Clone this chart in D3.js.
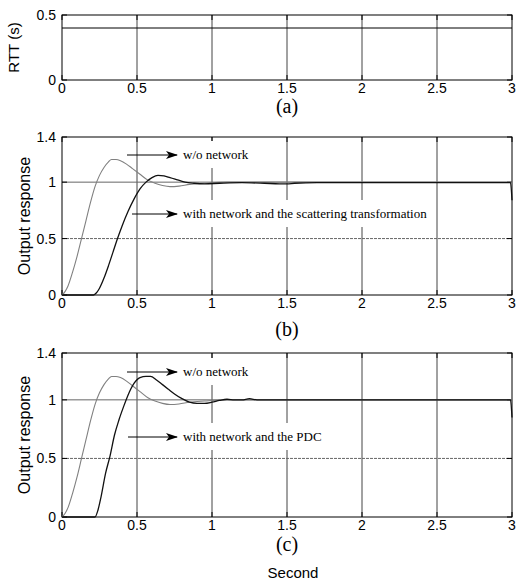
<html>
<head>
<meta charset="UTF-8">
<script src="https://d3js.org/d3.v7.min.js"></script>
<style>
  body { margin: 0; background: #fff; }
  text { font-family: "Liberation Sans", Arial, sans-serif; }
  .serif { font-family: "Liberation Serif", "Times New Roman", serif; }
</style>
</head>
<body>
<svg id="chart" width="532" height="583"></svg>
<script>
// RTT series
var tRtt = [0, 3];
var rtt = [0.4, 0.4];

// w/o network response
var tNo = [0, 0.02, 0.04, 0.07, 0.1, 0.13, 0.16, 0.19, 0.22, 0.25, 0.28, 0.31, 0.33, 0.36, 0.39, 0.43, 0.47, 0.52, 0.57, 0.62, 0.67, 0.72, 0.78, 0.85, 0.95, 1.1, 1.3, 1.6, 2, 2.5, 3];
var yNo = [0, 0.03, 0.08, 0.2, 0.34, 0.5, 0.66, 0.82, 0.96, 1.06, 1.13, 1.18, 1.2, 1.2, 1.19, 1.16, 1.12, 1.07, 1.02, 0.99, 0.97, 0.96, 0.965, 0.98, 0.99, 1.0, 1.0, 1.0, 1.0, 1.0, 1.0];

// with network and the scattering transformation
var tSc = [0, 0.21, 0.23, 0.25, 0.28, 0.31, 0.34, 0.37, 0.4, 0.44, 0.48, 0.52, 0.56, 0.6, 0.64, 0.68, 0.72, 0.77, 0.82, 0.88, 0.95, 1.05, 1.2, 1.35, 1.45, 1.5, 1.55, 1.7, 2, 2.5, 2.99, 3];
var ySc = [0, 0, 0.02, 0.06, 0.15, 0.26, 0.38, 0.5, 0.61, 0.74, 0.85, 0.94, 1.0, 1.04, 1.06, 1.055, 1.04, 1.02, 1.0, 0.99, 0.985, 0.99, 0.995, 0.99, 0.985, 0.985, 0.99, 0.995, 0.995, 0.995, 0.995, 0.84];

// with network and the PDC
var tPdc = [0, 0.22, 0.24, 0.26, 0.29, 0.32, 0.35, 0.38, 0.41, 0.44, 0.48, 0.52, 0.56, 0.59, 0.63, 0.67, 0.71, 0.75, 0.8, 0.85, 0.9, 0.95, 1.0, 1.05, 1.1, 1.15, 1.2, 1.25, 1.3, 1.4, 1.6, 2, 2.5, 2.99, 3];
var yPdc = [0, 0, 0.06, 0.17, 0.37, 0.52, 0.7, 0.83, 0.94, 1.04, 1.14, 1.19, 1.2, 1.2, 1.17, 1.13, 1.09, 1.05, 1.01, 0.98, 0.97, 0.97, 0.98, 0.995, 1.005, 1.0, 1.0, 1.01, 1.0, 1.0, 1.0, 1.0, 1.0, 1.0, 0.85];

var xTicks = [0, 0.5, 1, 1.5, 2, 2.5, 3];
var yTicksA = [0, 0.5];
var yTicksB = [0, 0.5, 1, 1.4];

var svg = d3.select("#chart");
var left = 62, right = 512;

svg.append("defs").append("marker")
  .attr("id", "head")
  .attr("viewBox", "0 0 12 8")
  .attr("refX", 11).attr("refY", 4)
  .attr("markerWidth", 12).attr("markerHeight", 8)
  .attr("markerUnits", "userSpaceOnUse")
  .attr("orient", "auto")
  .append("path")
  .attr("d", "M0,0 L12,4 L0,8 L3,4 Z")
  .attr("fill", "#000");

function panel(top, bottom, ymax, yticks, label, labelY, ylabel, ylabelX, ysize) {
  var x = d3.scaleLinear().domain([0, 3]).range([left, right]);
  var y = d3.scaleLinear().domain([0, ymax]).range([bottom, top]);
  var g = svg.append("g");

  // grid
  g.selectAll(".vg").data(xTicks.slice(1, -1)).enter().append("line")
    .attr("x1", d => x(d)).attr("x2", d => x(d))
    .attr("y1", top).attr("y2", bottom)
    .attr("stroke", "#444").attr("stroke-width", 1);
  g.selectAll(".hg").data(yticks.filter(d => d > 0 && d < ymax)).enter().append("line")
    .attr("x1", left).attr("x2", right)
    .attr("y1", d => y(d)).attr("y2", d => y(d))
    .attr("stroke", "#666").attr("stroke-width", 1)
    .attr("stroke-dasharray", d => d == 1 ? null : "3,1");

  // ticks inward
  xTicks.forEach(function(d) {
    g.append("line").attr("x1", x(d)).attr("x2", x(d)).attr("y1", bottom).attr("y2", bottom - 5).attr("stroke", "#000");
    g.append("line").attr("x1", x(d)).attr("x2", x(d)).attr("y1", top).attr("y2", top + 5).attr("stroke", "#000");
  });
  yticks.forEach(function(d) {
    g.append("line").attr("x1", left).attr("x2", left + 5).attr("y1", y(d)).attr("y2", y(d)).attr("stroke", "#000");
    g.append("line").attr("x1", right).attr("x2", right - 5).attr("y1", y(d)).attr("y2", y(d)).attr("stroke", "#000");
  });

  // frame
  g.append("rect").attr("x", left).attr("y", top)
    .attr("width", right - left).attr("height", bottom - top)
    .attr("fill", "none").attr("stroke", "#000").attr("stroke-width", 1);

  // tick labels
  g.selectAll(".xl").data(xTicks).enter().append("text")
    .attr("x", d => x(d)).attr("y", bottom + 13)
    .attr("text-anchor", "middle").attr("font-size", 14)
    .text(d => d);
  g.selectAll(".yl").data(yticks).enter().append("text")
    .attr("x", left - 6).attr("y", d => y(d) + 5)
    .attr("text-anchor", "end").attr("font-size", 14)
    .text(d => d);

  g.append("text").attr("class", "serif")
    .attr("x", 287).attr("y", labelY)
    .attr("text-anchor", "middle").attr("font-size", 20)
    .text(label);

  g.append("text")
    .attr("transform", "translate(" + ylabelX + "," + ((top + bottom) / 2) + ") rotate(-90)")
    .attr("text-anchor", "middle").attr("font-size", ysize)
    .text(ylabel);

  return {x: x, y: y, g: g};
}

function curve(p, ts, ys, color, w) {
  var pts = ts.map((t, i) => [t, ys[i]]);
  p.g.append("path").datum(pts)
    .attr("d", d3.line().x(d => p.x(d[0])).y(d => p.y(d[1])).curve(d3.curveMonotoneX))
    .attr("fill", "none").attr("stroke", color).attr("stroke-width", w);
}

function note(x1, x2, yy, txt) {
  var t = svg.append("text").attr("class", "serif")
    .attr("x", x2 + 6).attr("y", yy + 4).attr("font-size", 13).text(txt);
  var b = t.node().getBBox();
  svg.insert("rect", "text:last-child")
    .attr("x", b.x - 3).attr("y", b.y - 6).attr("width", b.width + 6).attr("height", b.height + 12)
    .attr("fill", "#fff");
  t.raise();
  svg.append("line").attr("x1", x1).attr("x2", x2).attr("y1", yy).attr("y2", yy)
    .attr("stroke", "#000").attr("stroke-width", 1).attr("marker-end", "url(#head)");
}

var pa = panel(15, 80, 0.5, yTicksA, "(a)", 113, "RTT (s)", 19, 15);
curve(pa, tRtt, rtt, "#000", 1);

var pb = panel(137, 295, 1.4, yTicksB, "(b)", 336, "Output response", 30, 16);
curve(pb, tNo, yNo, "#808080", 1.1);
curve(pb, tSc, ySc, "#111", 1.3);
note(127, 177, 155, "w/o network");
note(132, 177, 214, "with network and the scattering transformation");

var pc = panel(353, 517, 1.4, yTicksB, "(c)", 551, "Output response", 30, 16);
curve(pc, tNo, yNo, "#808080", 1.1);
curve(pc, tPdc, yPdc, "#111", 1.3);
note(127, 177, 372, "w/o network");
note(128, 177, 437, "with network and the PDC");

svg.append("text").attr("x", 293).attr("y", 578)
  .attr("text-anchor", "middle").attr("font-size", 15).text("Second");
</script>
</body>
</html>
